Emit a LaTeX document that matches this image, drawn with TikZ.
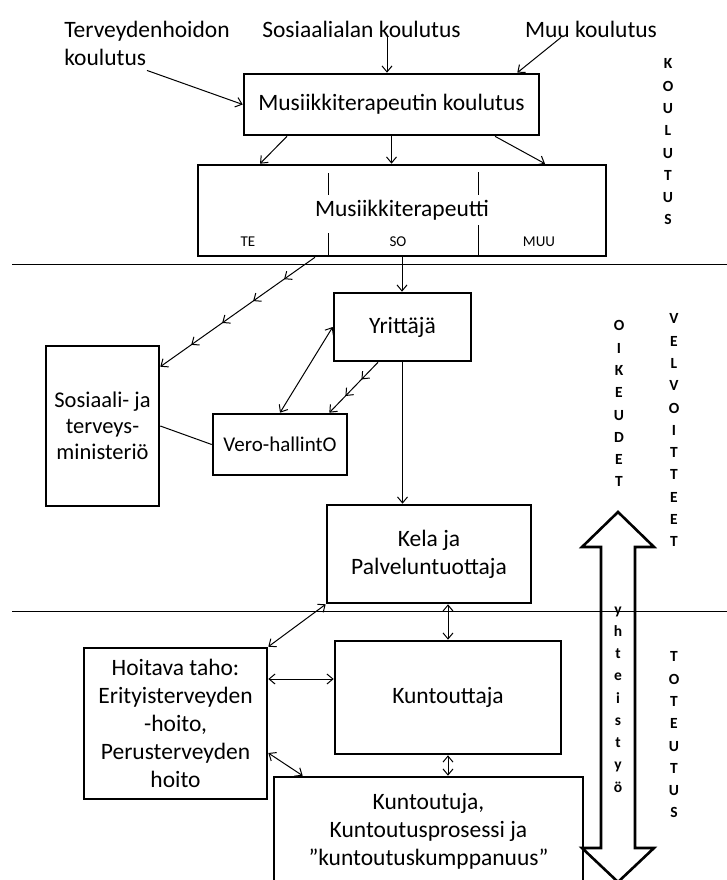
\documentclass[tikz,border=0pt]{standalone}
\usepackage{fontspec}
\setmainfont{Carlito}
\usetikzlibrary{arrows.meta,decorations.markings}
\tikzstyle{box} = [draw, line width=2.6pt, align=center, inner sep=0pt, font=\fontsize{23.5}{28}\selectfont]
\tikzstyle{lbl} = [align=left, inner sep=0pt, font=\fontsize{23.5}{28}\selectfont]
\tikzstyle{small} = [inner sep=0pt, font=\fontsize{15}{18}\selectfont]
\tikzstyle{vtext} = [inner sep=0pt, anchor=base, font=\fontsize{15.5}{18}\selectfont\bfseries]
\tikzstyle{conn} = [line width=1pt, -{Straight Barb[length=6pt,width=10pt]}]
\tikzstyle{both} = [line width=1pt, {Straight Barb[length=6pt,width=10pt]}-{Straight Barb[length=6pt,width=10pt]}]
\tikzstyle{arrfour} = [conn, postaction=decorate, decoration={markings,
    mark=at position 0.2 with {\arrow{Straight Barb[length=6pt,width=10pt]}},
    mark=at position 0.4 with {\arrow{Straight Barb[length=6pt,width=10pt]}},
    mark=at position 0.6 with {\arrow{Straight Barb[length=6pt,width=10pt]}},
    mark=at position 0.8 with {\arrow{Straight Barb[length=6pt,width=10pt]}}}]
\tikzstyle{arrtwo} = [conn, postaction=decorate, decoration={markings,
    mark=at position 0.34 with {\arrow{Straight Barb[length=6pt,width=10pt]}},
    mark=at position 0.67 with {\arrow{Straight Barb[length=6pt,width=10pt]}}}]
\tikzstyle{bigarrow} = [line width=2.6pt, line join=miter]
\begin{document}
\begin{tikzpicture}[x=1pt, y=-1pt]
\useasboundingbox (0,0) rectangle (727,880);
\node[lbl] (tervk) at (147,43) {Terveydenhoidon\\koulutus};
\node[lbl] (sosk) at (361.5,29) {Sosiaalialan koulutus};
\node[lbl] (muuk) at (591,29) {Muu koulutus};
\node[box, minimum width=295, minimum height=61] (mtk) at (391.5,104.5) {Musiikkiterapeutin koulutus};
\node[box, minimum width=408, minimum height=91] (mt) at (402,210.5) {Musiikkiterapeutti};
\node[small] (te) at (248,242) {TE};
\node[small] (so) at (398,242) {SO};
\node[small] (muu) at (539,242) {MUU};
\draw[line width=1pt] (328,173) -- (328,195) (328,233) -- (328,256);
\draw[line width=1pt] (478,172) -- (478,195) (478,225) -- (478,256);
\node[box, minimum width=137, minimum height=68] (yr) at (402.5,327) {Yrittäjä};
\node[box, minimum width=134, minimum height=61, font=\fontsize{21}{26}\selectfont] (vero) at (280,444.5) {Vero-hallintO};
\node[box, minimum width=113, minimum height=160, font=\fontsize{22.5}{26}\selectfont] (sos) at (102.5,426) {Sosiaali- ja\\terveys-\\ministeriö};
\node[box, minimum width=204, minimum height=98] (kela) at (429,554) {Kela ja\\Palveluntuottaja};
\node[box, minimum width=226, minimum height=113] (kunt) at (448,697.5) {Kuntouttaja};
\node[box, minimum width=183, minimum height=151] (hoit) at (175.5,723.5) {Hoitava taho:\\Erityisterveyden\\-hoito,\\Perusterveyden\\hoito};
\node[box, minimum width=309, minimum height=108] (kto) at (428.5,831) {Kuntoutuja,\\Kuntoutusprosessi ja\\”kuntoutuskumppanuus”};
\draw[line width=1pt] (12,264) -- (727,264);
\draw[line width=1pt] (12,611) -- (727,611);
\draw[conn] ([yshift=-5pt]tervk.south) -- (mtk.west);
\draw[conn] ([xshift=25.5pt]sosk.south) -- ([xshift=25.5pt]sosk.south |- mtk.north);
\draw[conn] ([xshift=-30pt]muuk.south) -- ([xshift=-23pt]mtk.north east);
\draw[conn] ([xshift=-104.5pt]mtk.south) -- ([xshift=-142pt]mt.north);
\draw[conn] (mtk.south) -- (mtk.south |- mt.north);
\draw[conn] ([xshift=103.5pt]mtk.south) -- ([xshift=143pt]mt.north);
\draw[arrfour] ([xshift=-87pt]mt.south) -- ([yshift=-22pt]sos.north east);
\draw[conn] (mt.south) -- (mt.south |- yr.north);
\draw[both] (yr.west) -- (vero.north);
\draw[arrtwo] ([xshift=-24.5pt]yr.south) -- ([xshift=-19pt]vero.north east);
\draw[line width=1pt] (sos.east) -- (vero.west);
\draw[conn] (yr.south) -- (yr.south |- kela.north);
\draw[both] (kunt.north |- kela.south) -- (kunt.north);
\draw[both] (kela.south west) -- (hoit.north east);
\draw[both] ([yshift=44.5pt]hoit.east) -- ([yshift=18.5pt]kunt.west);
\draw[both] ([yshift=-29.5pt]hoit.east) -- ([xshift=30pt]kto.north west);
\draw[both] (kunt.south) -- (kunt.south |- kto.north);
\draw[bigarrow] (618,512) -- (654,547) -- (635,547) -- (635,848) -- (654,848) -- (618,882)
    -- (582,848) -- (601,848) -- (601,547) -- (582,547) -- cycle;
\foreach \c [count=\i from 0] in {K,O,U,L,U,T,U,S}
    \node[vtext] (kl\i) at (668,68.8+22.3*\i) {\c};
\foreach \c [count=\i from 0] in {O,I,K,E,U,D,E,T}
    \node[vtext] (oi\i) at (619,330.8+22.3*\i) {\c};
\foreach \c [count=\i from 0] in {V,E,L,V,O,I,T,T,E,E,T}
    \node[vtext] (ve\i) at (674,323.8+22.3*\i) {\c};
\foreach \c [count=\i from 0] in {y,h,t,e,i,s,t,y,ö}
    \node[vtext] (yh\i) at (618,614+22.25*\i) {\c};
\foreach \c [count=\i from 0] in {T,O,T,E,U,T,U,S}
    \node[vtext] (to\i) at (674,661.8+22.3*\i) {\c};
\end{tikzpicture}
\end{document}
